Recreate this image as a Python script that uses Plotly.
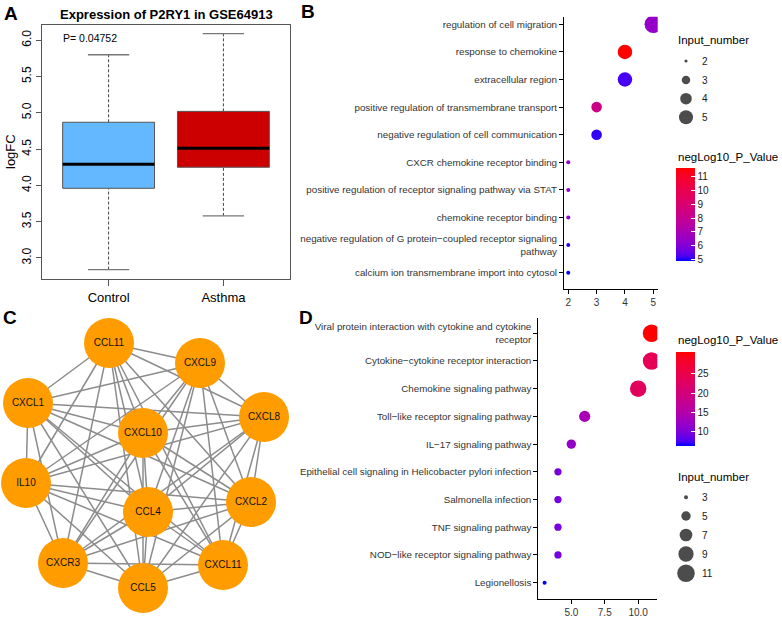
import itertools
import numpy as np
import plotly.graph_objects as go

W, H = 782, 617
FONT = "Liberation Sans"

# ---------------- Panel A data ----------------
groups = ["Control", "Asthma"]
box_low = [2.84, 3.58]
box_q1 = [3.96, 4.25]
box_med = [4.29, 4.51]
box_q3 = [4.87, 5.02]
box_high = [5.80, 6.09]
box_fill = ["#63B8FF", "#CD0000"]
a_title = "Expression of P2RY1 in GSE64913"
p_text = "P= 0.04752"
a_yticks = [3.0, 3.5, 4.0, 4.5, 5.0, 5.5, 6.0]

# ---------------- Panel B data ----------------
go_terms = [
    "regulation of cell migration",
    "response to chemokine",
    "extracellular region",
    "positive regulation of transmembrane transport",
    "negative regulation of cell communication",
    "CXCR chemokine receptor binding",
    "positive regulation of receptor signaling pathway via STAT",
    "chemokine receptor binding",
    "negative regulation of G protein\u2212coupled receptor signaling<br>pathway",
    "calcium ion transmembrane import into cytosol",
]
go_count = [5, 4, 4, 3, 3, 2, 2, 2, 2, 2]
go_logp = [6.4, 11.6, 5.2, 8.3, 5.1, 6.3, 6.3, 6.2, 5.1, 4.88]
go_size_legend = [2, 3, 4, 5]
go_color_ticks = [5, 6, 7, 8, 9, 10, 11]

# ---------------- Panel C data ----------------
node_names = ["CCL11", "CXCL9", "CXCL1", "CXCL10", "CXCL8", "IL10",
              "CCL4", "CXCL2", "CXCR3", "CCL5", "CXCL11"]
node_x = [109, 200, 28, 143, 264, 26, 148, 251, 63, 143, 223]
node_y = [343, 363, 403, 433, 417, 483, 512, 502, 563, 588, 565]
edges = list(itertools.combinations(range(len(node_names)), 2))

# ---------------- Panel D data ----------------
kegg_terms = [
    "Viral protein interaction with cytokine and cytokine<br>receptor",
    "Cytokine\u2212cytokine receptor interaction",
    "Chemokine signaling pathway",
    "Toll\u2212like receptor signaling pathway",
    "IL\u221217 signaling pathway",
    "Epithelial cell signaling in Helicobacter pylori infection",
    "Salmonella infection",
    "TNF signaling pathway",
    "NOD\u2212like receptor signaling pathway",
    "Legionellosis",
]
kegg_count = [11, 11, 10, 6, 5, 4, 4, 4, 4, 3]
kegg_logp = [30.8, 24.0, 23.2, 13.8, 12.0, 9.8, 9.8, 9.6, 9.5, 6.3]
kegg_size_legend = [3, 5, 7, 9, 11]
kegg_color_ticks = [10, 15, 20, 25]
kegg_xticks = [5.0, 7.5, 10.0]


# ---------------- helpers ----------------
def px(x):
    return x / W


def py(y):
    return 1 - y / H


def _lin(c):
    c = c / 255.0
    return c / 12.92 if c <= 0.04045 else ((c + 0.055) / 1.055) ** 2.4


def _gam(c):
    c = max(0.0, min(1.0, c))
    v = 12.92 * c if c <= 0.0031308 else 1.055 * c ** (1 / 2.4) - 0.055
    return int(round(max(0, min(1, v)) * 255))


M = np.array([[0.4124, 0.3576, 0.1805], [0.2126, 0.7152, 0.0722], [0.0193, 0.1192, 0.9505]])
MI = np.linalg.inv(M)
WP = np.array([0.95047, 1.0, 1.08883])


def to_lab(rgb):
    xyz = M @ np.array([_lin(c) for c in rgb]) / WP
    f = np.where(xyz > (6 / 29) ** 3, np.cbrt(xyz), xyz / (3 * (6 / 29) ** 2) + 4 / 29)
    return np.array([116 * f[1] - 16, 500 * (f[0] - f[1]), 200 * (f[1] - f[2])])


def from_lab(lab):
    L, a, b = lab
    fy = (L + 16) / 116
    fx = fy + a / 500
    fz = fy - b / 200
    f = np.array([fx, fy, fz])
    xyz = np.where(f > 6 / 29, f ** 3, 3 * (6 / 29) ** 2 * (f - 4 / 29)) * WP
    rgb = MI @ xyz
    return "rgb(%d,%d,%d)" % tuple(_gam(c) for c in rgb)


lab_lo, lab_hi = to_lab((0, 0, 255)), to_lab((255, 0, 0))
cscale = [[t, from_lab(lab_lo + t * (lab_hi - lab_lo))] for t in np.linspace(0, 1, 21)]


def diam(n, lo, hi, dmin=4.0, dmax=17.5):
    t = (np.asarray(n, float) - lo) / (hi - lo)
    return np.sqrt(dmin ** 2 + t * (dmax ** 2 - dmin ** 2))


fig = go.Figure()

# ---------------- Panel A traces ----------------
for i, g in enumerate(groups):
    xc = i + 1
    hw = 0.4
    cw = 0.18
    fig.add_trace(go.Scatter(x=[xc, xc, None, xc, xc], y=[box_low[i], box_q1[i], None, box_q3[i], box_high[i]],
                             mode="lines", line=dict(color="#444", width=1, dash="3px,2px"),
                             xaxis="x", yaxis="y", showlegend=False, hoverinfo="skip"))
    fig.add_trace(go.Scatter(x=[xc - cw, xc + cw, None, xc - cw, xc + cw],
                             y=[box_low[i], box_low[i], None, box_high[i], box_high[i]],
                             mode="lines", line=dict(color="#777", width=1.3),
                             xaxis="x", yaxis="y", showlegend=False, hoverinfo="skip"))
    fig.add_trace(go.Scatter(x=[xc - hw, xc + hw, xc + hw, xc - hw, xc - hw],
                             y=[box_q1[i], box_q1[i], box_q3[i], box_q3[i], box_q1[i]],
                             mode="lines", fill="toself", fillcolor=box_fill[i],
                             line=dict(color="#555", width=1),
                             xaxis="x", yaxis="y", showlegend=False, hoverinfo="skip"))
    fig.add_trace(go.Scatter(x=[xc - hw, xc + hw], y=[box_med[i], box_med[i]],
                             mode="lines", line=dict(color="black", width=3),
                             xaxis="x", yaxis="y", showlegend=False, hoverinfo="skip"))

# ---------------- Panel B traces ----------------
fig.add_trace(go.Scatter(x=go_count, y=go_terms, mode="markers",
                         marker=dict(size=diam(go_count, 2, 5), color=go_logp, coloraxis="coloraxis",
                                     line=dict(width=0), opacity=1),
                         cliponaxis=True, xaxis="x2", yaxis="y2", showlegend=False))

# ---------------- Panel D traces ----------------
fig.add_trace(go.Scatter(x=kegg_count, y=kegg_terms, mode="markers",
                         marker=dict(size=diam(kegg_count, 3, 11), color=kegg_logp, coloraxis="coloraxis2",
                                     line=dict(width=0), opacity=1),
                         cliponaxis=True, xaxis="x4", yaxis="y4", showlegend=False))

# ---------------- Panel C (overlay pixel axis) ----------------
ex, ey = [], []
for a, b in edges:
    ex += [node_x[a], node_x[b], None]
    ey += [node_y[a], node_y[b], None]
fig.add_trace(go.Scatter(x=ex, y=ey, mode="lines", line=dict(color="#8C8C8C", width=1.5),
                         xaxis="x3", yaxis="y3", showlegend=False, hoverinfo="skip"))
fig.add_trace(go.Scatter(x=node_x, y=node_y, mode="markers+text", text=node_names,
                         textposition="middle center",
                         textfont=dict(family=FONT, size=10, color="#111"),
                         marker=dict(size=50, color="#FF9C00", line=dict(width=0)),
                         cliponaxis=False, xaxis="x3", yaxis="y3", showlegend=False))

# size legends
b_leg_y = [61, 80, 98.7, 117.3]
d_leg_y = [497.3, 516, 535, 554, 573.3]
fig.add_trace(go.Scatter(x=[686] * len(go_size_legend), y=b_leg_y, mode="markers",
                         marker=dict(size=diam(go_size_legend, 2, 5) * 0.8, color="black", line=dict(width=0)),
                         xaxis="x3", yaxis="y3", showlegend=False, hoverinfo="skip"))
fig.add_trace(go.Scatter(x=[686] * len(kegg_size_legend), y=d_leg_y, mode="markers",
                         marker=dict(size=diam(kegg_size_legend, 3, 11), color="black", line=dict(width=0)),
                         xaxis="x3", yaxis="y3", showlegend=False, hoverinfo="skip"))

ann = []


def text(x, y, s, size=10, bold=False, xanchor="center", angle=0, color="black", xref="paper", yref="paper"):
    if xref == "paper":
        x = px(x)
    if yref == "paper":
        y = py(y)
    ann.append(dict(x=x, y=y, xref=xref, yref=yref, text=("<b>%s</b>" % s) if bold else s,
                    showarrow=False, xanchor=xanchor, yanchor="middle", textangle=angle,
                    font=dict(family=FONT, size=size, color=color)))


for v, yy in zip(go_size_legend, b_leg_y):
    text(700, yy, str(v), size=10, xanchor="left", color="#1a1a1a")
for v, yy in zip(kegg_size_legend, d_leg_y):
    text(700, yy, str(v), size=10, xanchor="left", color="#1a1a1a")

text(676, 40, "Input_number", size=11.5, xanchor="left")
text(676, 156.5, "negLog10_P_Value", size=11.5, xanchor="left")
text(676, 340, "negLog10_P_Value", size=11.5, xanchor="left")
text(676, 477, "Input_number", size=11.5, xanchor="left")

text(11, 13, "A", size=19, bold=True)
text(308, 12, "B", size=19, bold=True)
text(10, 318, "C", size=19, bold=True)
text(306, 317, "D", size=19, bold=True)

text(166, 14, a_title, size=13, bold=True)
text(10, 152, "logFC", size=13, angle=-90)
text(0.84, 6.035, p_text, size=10.5, xref="x", yref="y")

common_ax = dict(showgrid=False, zeroline=False, fixedrange=True, automargin=False)
cb_common = dict(xanchor="left", yanchor="top", lenmode="pixels", thicknessmode="pixels", thickness=19,
                 xpad=0, ypad=0, outlinewidth=0, ticks="inside", tickcolor="white", ticklen=4, tickwidth=1,
                 tickfont=dict(family=FONT, size=10, color="#1a1a1a"), title=dict(text=""))

fig.update_layout(
    width=W, height=H, margin=dict(l=0, r=0, t=0, b=0, pad=0, autoexpand=False),
    paper_bgcolor="white", plot_bgcolor="rgba(0,0,0,0)",
    font=dict(family=FONT, color="black"),
    annotations=ann,
    xaxis=dict(domain=[px(42), px(290)], range=[0.42, 2.58], tickvals=[1, 2], ticktext=groups,
               ticks="outside", ticklen=6, tickcolor="#555", showline=True, linecolor="#555", mirror=True,
               tickfont=dict(size=13, color="black"), **common_ax),
    yaxis=dict(domain=[py(279), py(25)], range=[2.71, 6.21], tickvals=a_yticks, tickformat=".1f",
               tickangle=-90, ticks="outside", ticklen=5, tickcolor="#555", showline=True, linecolor="#555",
               mirror=True, tickfont=dict(size=12, color="black"), **common_ax),
    xaxis2=dict(domain=[px(564), px(657.7)], range=[1.85, 5.155], tickvals=[2, 3, 4, 5],
                ticks="outside", ticklen=4, tickcolor="black", showline=True, linecolor="black", linewidth=1,
                tickfont=dict(size=10, color="#333"), anchor="y2", **common_ax),
    yaxis2=dict(domain=[py(289), py(16.7)], type="category", categoryorder="array", categoryarray=go_terms,
                range=[9.59, -0.275], ticks="outside", ticklen=4, tickcolor="black", showline=True,
                linecolor="black", linewidth=1, tickfont=dict(size=9.8, color="#333"), anchor="x2", **common_ax),
    xaxis4=dict(domain=[px(538.3), px(657.3)], range=[2.53, 11.43], tickmode="array", tickvals=kegg_xticks,
                ticktext=["%.1f" % v for v in kegg_xticks],
                ticks="outside", ticklen=4, tickcolor="black", showline=True, linecolor="black", linewidth=1,
                tickfont=dict(size=10, color="#333"), anchor="y4", **common_ax),
    yaxis4=dict(domain=[py(599), py(318.3)], type="category", categoryorder="array", categoryarray=kegg_terms,
                range=[9.59, -0.54], ticks="outside", ticklen=4, tickcolor="black", showline=True,
                linecolor="black", linewidth=1, tickfont=dict(size=9.8, color="#333"), anchor="x4", **common_ax),
    xaxis3=dict(domain=[0, 1], range=[0, W], visible=False, anchor="y3", **common_ax),
    yaxis3=dict(domain=[0, 1], range=[H, 0], visible=False, anchor="x3", **common_ax),
    coloraxis=dict(colorscale=cscale, cmin=min(go_logp), cmax=max(go_logp),
                   colorbar=dict(x=px(676), y=py(168.3), len=93.4, tickvals=go_color_ticks, **cb_common)),
    coloraxis2=dict(colorscale=cscale, cmin=min(kegg_logp), cmax=max(kegg_logp),
                    colorbar=dict(x=px(676), y=py(351.7), len=94.3, tickvals=kegg_color_ticks, **cb_common)),
)

fig.write_html("out.html", config={"displayModeBar": False},
               post_script="document.body.style.margin='0px';document.body.style.overflow='hidden';")
